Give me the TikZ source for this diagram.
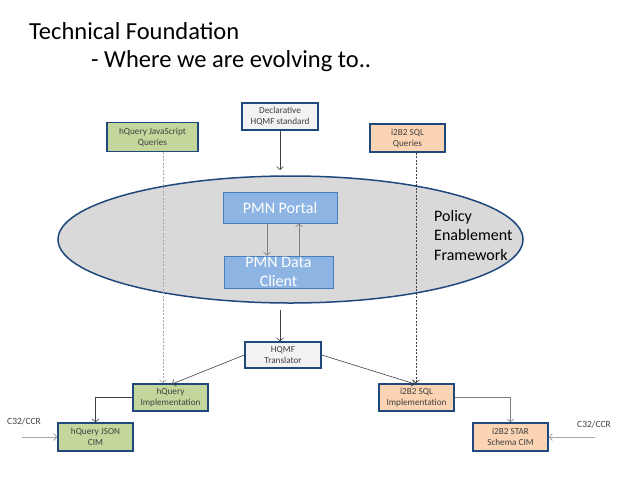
\documentclass[tikz,border=0pt]{standalone}
\usepackage{fontspec}
\setmainfont{Carlito}
\usetikzlibrary{arrows.meta,shapes.geometric}
\definecolor{bordblue}{HTML}{1F497D}
\definecolor{greenfill}{HTML}{C3D69B}
\definecolor{peachfill}{HTML}{FBD4B4}
\definecolor{lightfill}{HTML}{F2F2F2}
\definecolor{ellfill}{HTML}{D9D9D9}
\definecolor{pmnfill}{HTML}{8EB4E3}
\definecolor{pmnborder}{HTML}{4A7EBB}
\definecolor{boxtext}{HTML}{404040}
\definecolor{linegray}{HTML}{404040}
\tikzset{
  x=1pt, y=-1pt,
  sbox/.style={draw=bordblue, line width=1.5pt, rectangle, inner sep=0pt, align=center,
    text=boxtext, font=\fontsize{9.2}{11}\selectfont, minimum width=75pt, minimum height=27pt},
  gbox/.style={sbox, fill=greenfill},
  pbox/.style={sbox, fill=peachfill},
  lbox/.style={sbox, fill=lightfill},
  pmnbox/.style={draw=pmnborder, line width=1pt, fill=pmnfill, rectangle, inner sep=0pt, align=center,
    text=white, font=\fontsize{16}{18.5}\selectfont},
  conn/.style={draw=linegray, line width=0.6pt, -{Straight Barb[length=3pt,width=7pt]}},
  lightconn/.style={draw=gray!70, line width=0.9pt, -{Straight Barb[length=3pt,width=7pt]}},
  dashconn/.style={conn, dashed, dash pattern=on 2pt off 1.5pt},
  lbl/.style={font=\fontsize{9.5}{11}\selectfont, text=boxtext, inner sep=0pt}
}
\begin{document}
\begin{tikzpicture}
\useasboundingbox (0,0) rectangle (640,480);
% title
\node[anchor=west, inner sep=0pt, font=\fontsize{24.5}{28}\selectfont] (title1) at (29,31) {Technical Foundation};
\node[anchor=west, inner sep=0pt, font=\fontsize{24.5}{28}\selectfont] (title2) at (91,61) {- Where we are evolving to..};

% ellipse
\node[ellipse, draw=bordblue, line width=1.5pt, fill=ellfill, minimum width=465pt, minimum height=127pt, inner sep=0pt] (ell) at (290.5,239.5) {};

% top boxes
\node[gbox, minimum width=91pt, minimum height=29pt] (hqjs) at (152.5,137) {hQuery JavaScript\\Queries};
\node[lbox, minimum width=76pt, minimum height=27pt] (decl) at (280,116.5) {Declarative\\HQMF standard};
\node[pbox, minimum width=75pt, minimum height=28pt] (i2q) at (407.5,138) {i2B2 SQL\\Queries};

% PMN boxes
\node[pmnbox, minimum width=114pt, minimum height=31pt] (portal) at (280,207.5) {PMN Portal};
\node[pmnbox, minimum width=109pt, minimum height=32pt] (client) at (278.5,272) {PMN Data\\Client};

\node[anchor=west, align=left, inner sep=0pt, font=\fontsize{16}{19.5}\selectfont] (pef) at (434,235) {Policy\\Enablement\\Framework};

% lower boxes
\node[lbox, minimum width=76pt, minimum height=26pt] (trans) at (283,355) {HQMF\\Translator};
\node[gbox] (hqimpl) at (170.5,397.5) {hQuery\\Implementation};
\node[gbox, minimum height=28pt] (json) at (95.5,437) {hQuery JSON\\CIM};
\node[pbox] (i2impl) at (416.5,397.5) {i2B2 SQL\\Implementation};
\node[pbox, minimum height=28pt] (star) at (510.5,437) {i2B2 STAR\\Schema CIM};

\node[lbl, anchor=west] (c32l) at (7,421) {C32/CCR};
\node[lbl, anchor=west] (c32r) at (577,424) {C32/CCR};

% helper coordinates
\coordinate (declend) at (280,170);
\coordinate (elltop) at (280,310);
\coordinate (downx) at (267,0);
\coordinate (upx) at (299,0);
\coordinate (hqx) at (163,0);
\coordinate (i2x) at (416,0);
\coordinate (hqin) at (172,384);
\coordinate (i2in) at (415,384);
\coordinate (c32lstart) at (22,437);
\coordinate (c32rstart) at (595,437);

% connectors
\draw[conn] (decl.south) -- (declend);
\draw[conn] (elltop) -- (elltop |- trans.north);
\draw[conn, draw=gray] (portal.south -| downx) -- (client.north -| downx);
\draw[conn, draw=gray] (client.north -| upx) -- (portal.south -| upx);
\draw[dashconn, draw=gray!70] (hqjs.south -| hqx) -- (hqimpl.north -| hqx);
\draw[dashconn] (i2q.south -| i2x) -- (i2impl.north -| i2x);
\draw[conn] (trans.west) -- (hqin);
\draw[conn] (trans.east) -- (i2in);
\draw[conn] (hqimpl.west) -| (json.north);
\draw[conn, draw=gray] (i2impl.east) -| (star.north);
\draw[lightconn] (c32lstart) -- (json.west);
\draw[lightconn] (c32rstart) -- (star.east);
\end{tikzpicture}
\end{document}
